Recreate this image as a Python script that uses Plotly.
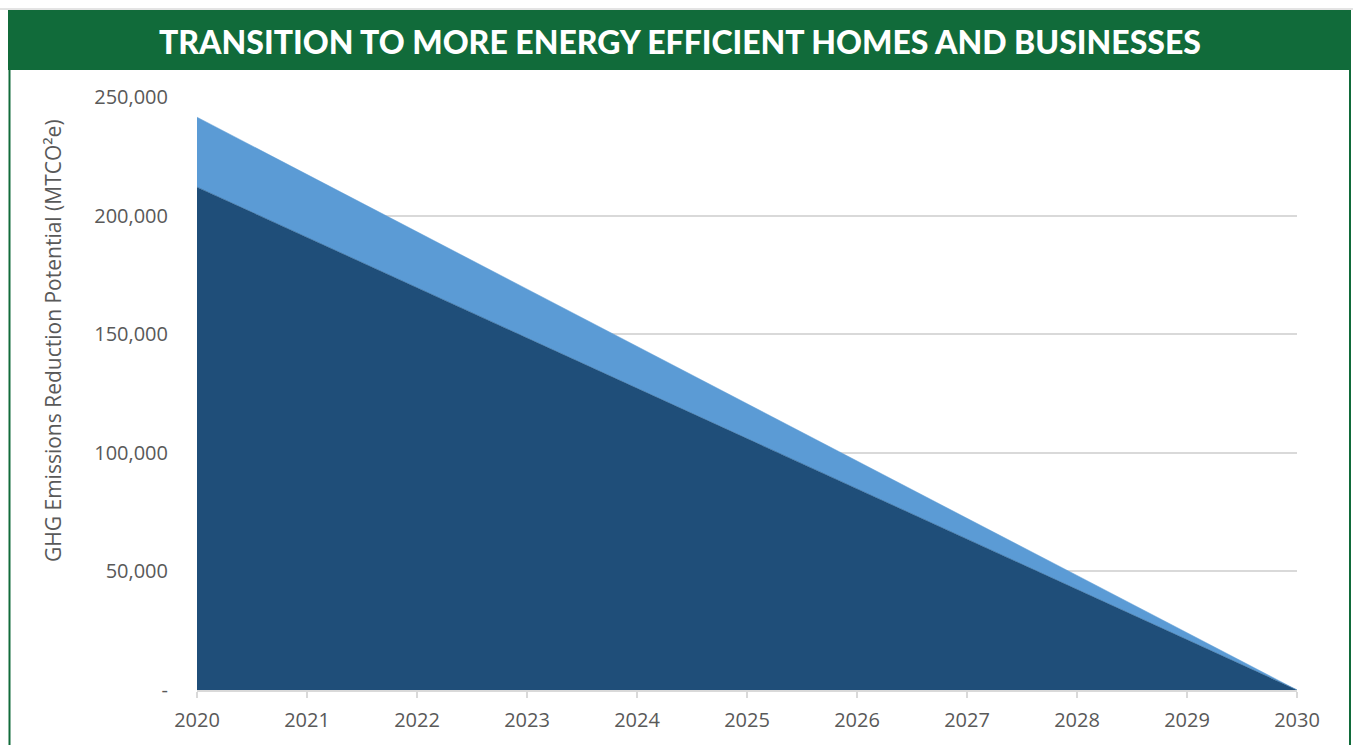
import plotly.graph_objects as go

years = [2020, 2021, 2022, 2023, 2024, 2025, 2026, 2027, 2028, 2029, 2030]
dark_values = [212000, 190800, 169600, 148400, 127200, 106000, 84800, 63600, 42400, 21200, 0]
light_values = [29500, 26500, 23600, 20700, 17700, 14700, 11800, 8800, 5900, 2950, 0]
y_tickvals = [0, 50000, 100000, 150000, 200000, 250000]
y_ticktext = ["-", "50,000", "100,000", "150,000", "200,000", "250,000"]

title_text = "TRANSITION TO MORE ENERGY EFFICIENT HOMES AND BUSINESSES"
y_title = "GHG Emissions Reduction Potential (MTCO²e)"

W, H = 1353, 745
L, R, T, B = 197, 56, 97, 55
PW, PH = W - L - R, H - T - B


def px(x):
    return (x - L) / PW


def py(y):
    return (H - B - y) / PH


green = "#116b3a"
tick_color = "#595959"

fig = go.Figure()
fig.add_trace(go.Scatter(
    x=years, y=dark_values, mode="lines", stackgroup="one",
    line=dict(width=0.5, color="#1f4e79"), fillcolor="#1f4e79",
    name="Dark", hoverinfo="x+y"))
fig.add_trace(go.Scatter(
    x=years, y=light_values, mode="lines", stackgroup="one",
    line=dict(width=0.5, color="#5b9bd5"), fillcolor="#5b9bd5",
    name="Light", hoverinfo="x+y"))

shapes = [
    # top thin grey line
    dict(type="line", xref="paper", yref="paper", x0=px(0), x1=px(W), y0=py(9), y1=py(9),
         line=dict(color="#c8c8c8", width=1), layer="above"),
    # green banner
    dict(type="rect", xref="paper", yref="paper", x0=px(8), x1=px(1351), y0=py(70), y1=py(10),
         fillcolor=green, line=dict(width=0), layer="above"),
    # side borders
    dict(type="line", xref="paper", yref="paper", x0=px(9.5), x1=px(9.5), y0=py(70), y1=py(H + 5),
         line=dict(color=green, width=2), layer="above"),
    dict(type="line", xref="paper", yref="paper", x0=px(1350), x1=px(1350), y0=py(70), y1=py(H + 5),
         line=dict(color=green, width=2), layer="above"),
]

fig.update_layout(
    width=W, height=H,
    margin=dict(l=L, r=R, t=T, b=B),
    paper_bgcolor="white", plot_bgcolor="white",
    showlegend=False,
    shapes=shapes,
    annotations=[
        dict(text=title_text, xref="paper", yref="paper", x=px(680), y=py(41),
             xanchor="center", yanchor="middle", showarrow=False,
             font=dict(family="Lato", size=32, color="white", weight=900)),
        dict(text=y_title, xref="paper", yref="paper", x=px(53), y=py(341),
             xanchor="center", yanchor="middle", showarrow=False, textangle=-90,
             font=dict(family="Open Sans", size=21, color=tick_color)),
    ],
    xaxis=dict(
        range=[2020, 2030], tickvals=years, ticktext=[str(y) for y in years],
        showgrid=False, zeroline=False,
        showline=True, linecolor="#d9d9d9", linewidth=1.5,
        ticks="outside", ticklen=6, tickcolor="#d9d9d9", tickwidth=1.5,
        ticklabelstandoff=5,
        tickfont=dict(family="Open Sans", size=20, color=tick_color),
    ),
    yaxis=dict(
        range=[0, 250000], tickvals=y_tickvals, ticktext=y_ticktext,
        showgrid=True, gridcolor="#d9d9d9", gridwidth=1.5,
        zeroline=False, showline=False, ticks="",
        ticklabelstandoff=28,
        tickfont=dict(family="Open Sans", size=20, color=tick_color),
    ),
)

fig.write_html("out.html", config={"displayModeBar": False},
               post_script="document.body.style.margin='0';document.body.style.overflow='hidden';")
